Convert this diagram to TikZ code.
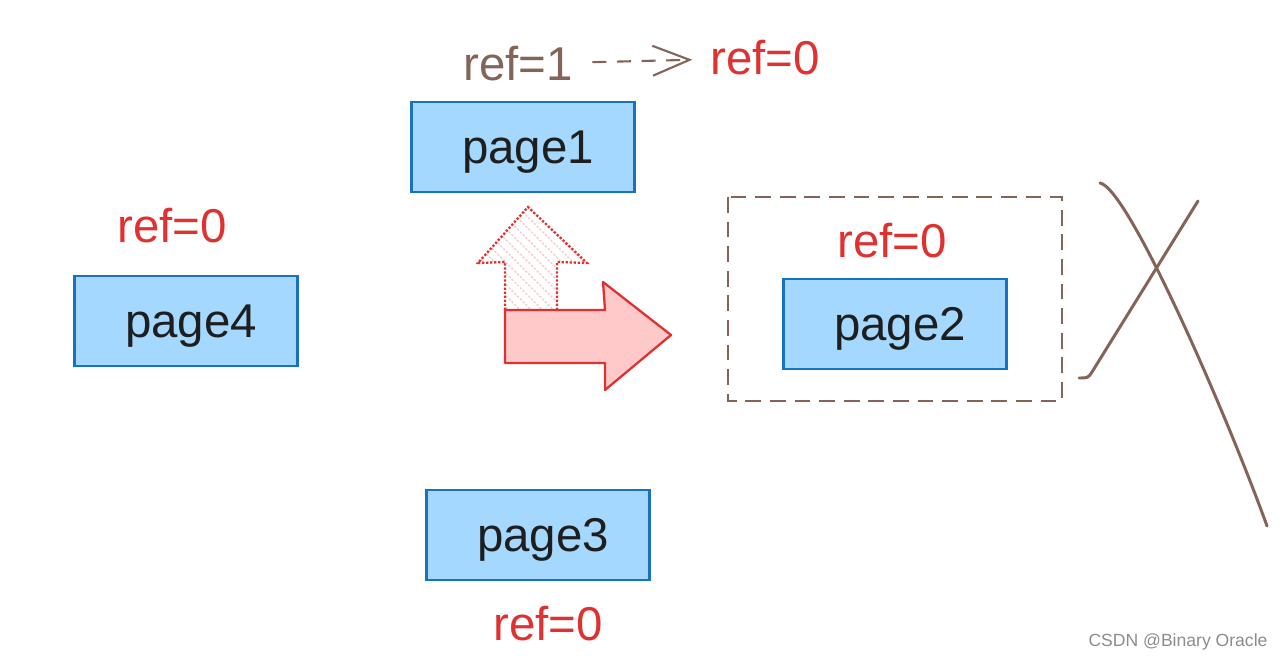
\documentclass[tikz,border=0pt]{standalone}
\usepackage{fontspec}
\setmainfont{Liberation Sans}
\usepackage{xcolor}
\definecolor{pageBlue}{HTML}{A5D8FF}
\definecolor{pageLine}{HTML}{1971C2}
\definecolor{refRed}{HTML}{E03131}
\definecolor{refPink}{HTML}{FFC9C9}
\definecolor{inkBrown}{HTML}{846358}
\definecolor{inkDark}{HTML}{1E1E1E}
\usetikzlibrary{arrows.meta,patterns.meta}

\tikzset{
  pagebox/.style={draw=pageLine, fill=pageBlue, line width=1.4pt,
    minimum width=4.46cm, minimum height=1.8cm, text=inkDark, text depth=0pt,
    execute at begin node=\hspace*{0.2cm},
    font=\fontsize{27}{30}\selectfont},
  reflabel/.style={inner sep=0pt, text=refRed, font=\fontsize{27}{30}\selectfont},
}

\begin{document}
\begin{tikzpicture}[x=0.02cm, y=-0.02cm]
  \useasboundingbox (0,0) rectangle (1284,662);
  % ------- pages -------
  \node[pagebox] (page1) at (523,147) {page1};
  \node[pagebox] (page4) at (186,321) {page4};
  \node[pagebox] (page2) at (895,324) {page2};
  \node[pagebox] (page3) at (538,535) {page3};
  % ------- ref counts -------
  \node[reflabel, text=inkBrown] (refOne) at (518,64) {ref=1};
  \node[reflabel] (refNew) at (765,58) {ref=0};
  \node[reflabel] (refFour) at (172,226) {ref=0};
  \node[reflabel] (refTwo) at (892,241) {ref=0};
  \node[reflabel] (refThree) at (548,624) {ref=0};
  \draw[inkBrown, line width=1.2pt, dash pattern=on 8pt off 6pt,
    -{Straight Barb[length=21pt, width=17pt, line width=1.2pt]},
    shorten <=11pt, shorten >=10pt] (refOne) -- (refNew);
  % ------- the moving arrows -------
  \draw[refRed, line width=1.3pt, densely dotted,
    pattern={Lines[angle=-45, distance=4.5pt, line width=0.8pt]}, pattern color=refRed!25]
    (505,310) -- (505,262) -- (478,263) -- (528,207) -- (587,263) -- (557,262) -- (557,310);
  \draw[refRed, fill=refPink, line width=1.3pt, line join=round]
    (505,310) -- (605,310) -- (603,282) -- (671,335) -- (605,390) -- (605,363) -- (505,363) -- cycle;
  % ------- page2 is freed -------
  \draw[inkBrown, line width=1.1pt, dash pattern=on 9pt off 5pt]
    (728,197) rectangle (1062,401);
  \draw[inkBrown, line width=1.7pt, line cap=round]
    (1100,183) .. controls (1128,188) and (1225,410) .. (1267,526);
  \draw[inkBrown, line width=1.7pt, line cap=round, line join=round]
    (1198,201) -- (1092,372) .. controls (1088,378) .. (1079,378);
  % ------- watermark -------
  \node[text=black!45, font=\fontsize{10}{12}\selectfont] (mark) at (1178,642) {CSDN @Binary Oracle};
\end{tikzpicture}
\end{document}
